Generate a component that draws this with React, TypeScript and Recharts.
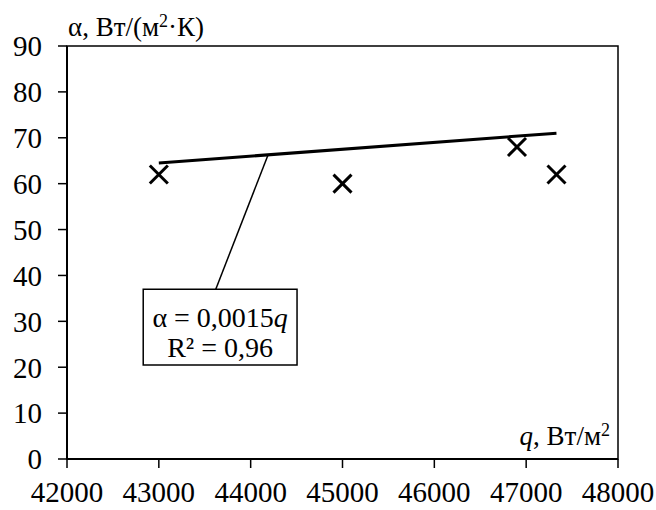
import React from "react";
import {
  ComposedChart,
  XAxis,
  YAxis,
  Scatter,
  Line,
  ReferenceLine,
  ReferenceArea,
  Label,
} from "recharts";

// measured points
const heatFlux = [43000, 45000, 46900, 47330];
const alphaValues = [62, 60, 68, 62];

// trend line α = 0,0015q (end points)
const trendFlux = [43000, 47330];
const trendAlpha = [64.5, 71.0];

const xTicks = [42000, 43000, 44000, 45000, 46000, 47000, 48000];
const yTicks = [0, 10, 20, 30, 40, 50, 60, 70, 80, 90];

const points = heatFlux.map((q, i) => ({ q, alpha: alphaValues[i] }));
const trend = trendFlux.map((q, i) => ({ q, fit: trendAlpha[i] }));

const FONT = '"Liberation Serif", "Times New Roman", serif';

const Cross = (props: any) => {
  const { cx, cy } = props;
  const s = 9;
  return (
    <g stroke="#000" strokeWidth={3}>
      <line x1={cx - s} y1={cy - s} x2={cx + s} y2={cy + s} />
      <line x1={cx - s} y1={cy + s} x2={cx + s} y2={cy - s} />
    </g>
  );
};

const YTitle = (props: any) => {
  const { viewBox } = props;
  const x = viewBox.x + viewBox.width + 1;
  const y = viewBox.y - 10;
  return (
    <text x={x} y={y} fontFamily={FONT} fontSize={27} fill="#000">
      α, Вт/(м
      <tspan fontSize={18} dy={-9}>2</tspan>
      <tspan dy={9}>·К)</tspan>
    </text>
  );
};

const XTitle = (props: any) => {
  const { viewBox } = props;
  const x = viewBox.x + viewBox.width - 8;
  const y = viewBox.y - 14;
  return (
    <text x={x} y={y} textAnchor="end" fontFamily={FONT} fontSize={27} fill="#000">
      <tspan fontStyle="italic">q</tspan>, Вт/м
      <tspan fontSize={18} dy={-9}>2</tspan>
    </text>
  );
};

const EquationBox = (props: any) => {
  const { viewBox } = props;
  const cx = viewBox.x + viewBox.width / 2;
  return (
    <text x={cx} y={viewBox.y} textAnchor="middle" fontFamily={FONT} fontSize={28} fill="#000">
      <tspan x={cx} dy={38}>
        α = 0,0015<tspan fontStyle="italic">q</tspan>
      </tspan>
      <tspan x={cx} dy={30}>R² = 0,96</tspan>
    </text>
  );
};

export default function App() {
  return (
    <div style={{ position: "absolute", left: 0, top: 0, background: "#fff" }}>
      <ComposedChart
        width={656}
        height={510}
        margin={{ top: 46, right: 38, bottom: 0, left: 0 }}
      >
        <XAxis
          type="number"
          dataKey="q"
          domain={[42000, 48000]}
          ticks={xTicks}
          allowDataOverflow
          height={51}
          tickSize={9}
          tickMargin={13}
          axisLine={{ stroke: "#000", strokeWidth: 2 }}
          tickLine={{ stroke: "#000", strokeWidth: 1.5 }}
          tick={{ fill: "#000", fontSize: 29, fontFamily: FONT }}
        >
          <Label content={<XTitle />} />
        </XAxis>
        <YAxis
          type="number"
          domain={[0, 90]}
          ticks={yTicks}
          width={67}
          tickSize={9}
          tickMargin={16}
          axisLine={{ stroke: "#000", strokeWidth: 2 }}
          tickLine={{ stroke: "#000", strokeWidth: 1.5 }}
          tick={{ fill: "#000", fontSize: 29, fontFamily: FONT }}
        >
          <Label content={<YTitle />} />
        </YAxis>
        <ReferenceArea
          x1={42000}
          x2={48000}
          y1={0}
          y2={90}
          fill="none"
          stroke="#000"
          strokeWidth={1.5}
          fillOpacity={0}
        />
        <Line
          data={trend}
          dataKey="fit"
          stroke="#000"
          strokeWidth={3}
          dot={false}
          activeDot={false}
          isAnimationActive={false}
        />
        <Scatter
          data={points}
          dataKey="alpha"
          shape={<Cross />}
          isAnimationActive={false}
        />
        <ReferenceLine
          segment={[
            { x: 44190, y: 66.3 },
            { x: 43620, y: 37 },
          ]}
          stroke="#000"
          strokeWidth={1.5}
        />
        <ReferenceArea
          x1={42830}
          x2={44505}
          y1={20.5}
          y2={37}
          fill="#fff"
          fillOpacity={1}
          stroke="#000"
          strokeWidth={1.5}
          label={<EquationBox />}
        />
      </ComposedChart>
    </div>
  );
}
